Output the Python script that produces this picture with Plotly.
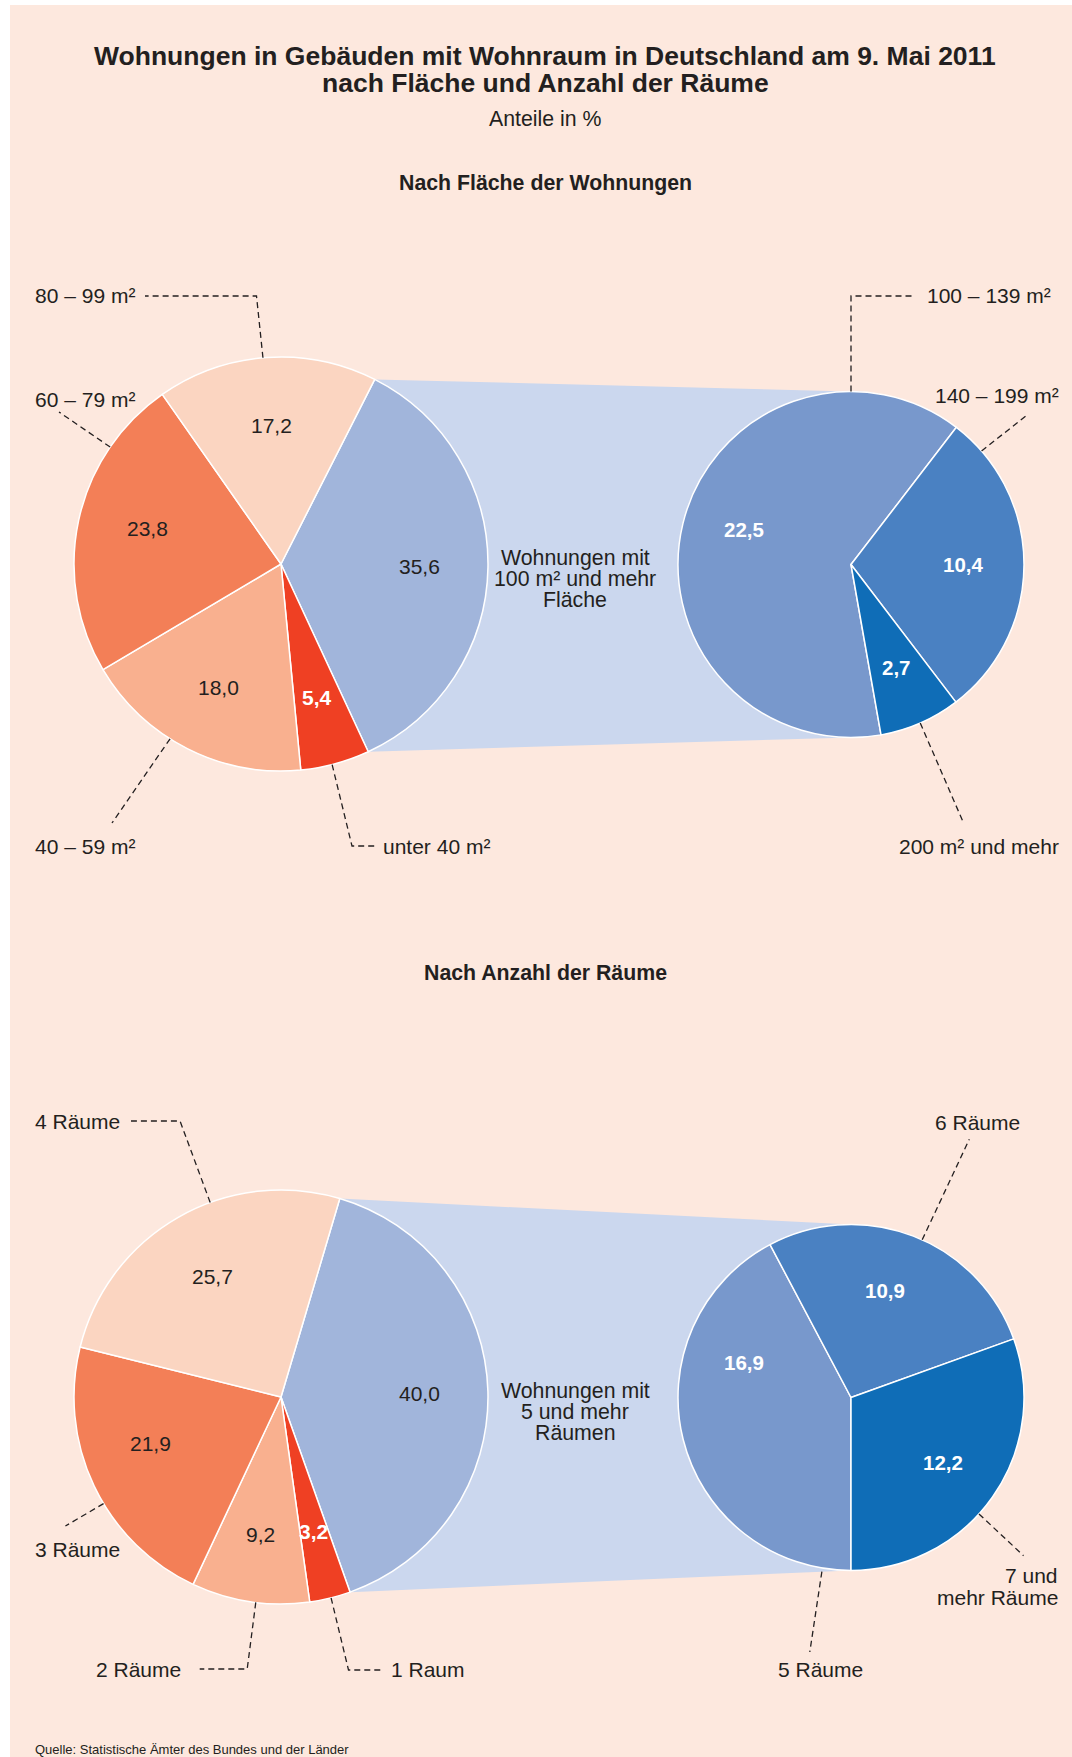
import math
import plotly.graph_objects as go

W, H = 1072, 1757

# ---------------- data ----------------
area_small_labels = ["unter 40 m²", "40 – 59 m²", "60 – 79 m²", "80 – 99 m²"]
area_small_values = [5.4, 18.0, 23.8, 17.2]
area_big_label = "100 m² und mehr"
area_big_value = 35.6
area_detail_labels = ["100 – 139 m²", "140 – 199 m²", "200 m² und mehr"]
area_detail_values = [22.5, 10.4, 2.7]

rooms_small_labels = ["1 Raum", "2 Räume", "3 Räume", "4 Räume"]
rooms_small_values = [3.2, 9.2, 21.9, 25.7]
rooms_big_label = "5 und mehr Räume"
rooms_big_value = 40.0
rooms_detail_labels = ["5 Räume", "6 Räume", "7 und mehr Räume"]
rooms_detail_values = [16.9, 10.9, 12.2]

# ---------------- styles ----------------
FONT = "Liberation Sans, Arial, sans-serif"
DARK = "#231F20"
BG = "#FDE8DE"
BAND = "#CBD7EE"
SMALL_COLORS = ["#EF4023", "#F9B08F", "#F37F57", "#FBD5C1"]
BIG_COLOR = "#A1B5DB"
DETAIL_COLORS = ["#7898CC", "#4A81C2", "#0F6DB7"]


def X(px):
    return px / W


def Y(py):
    return 1 - py / H


def fmt(v):
    return f"{v:.1f}".replace(".", ",")


def make_pie(labels, values, colors, cx, cy, r, rotation):
    return go.Pie(
        labels=labels, values=values, sort=False, direction="clockwise",
        rotation=rotation,
        marker=dict(colors=colors, line=dict(color="white", width=1.5)),
        textinfo="none", hoverinfo="label+value", showlegend=False,
        domain=dict(x=[(cx - r) / W, (cx + r) / W],
                    y=[1 - (cy + r) / H, 1 - (cy - r) / H]),
    )


def mid_angles(values, rotation):
    total = sum(values)
    cum = 0
    out = []
    for v in values:
        cw = rotation + 360 * (cum + v / 2) / total
        out.append(90 - cw)
        cum += v
    return out


def pt(cx, cy, r, ang):
    a = math.radians(ang)
    return cx + r * math.cos(a), cy - r * math.sin(a)


fig = go.Figure()
shapes = []
annotations = []

# background panel
shapes.append(dict(type="rect", xref="paper", yref="paper", x0=X(10), x1=X(W), y0=Y(H), y1=Y(5),
                   fillcolor=BG, line=dict(width=0), layer="below"))


def section(small_labels, small_values, big_label, big_value, detail_labels, detail_values,
            cy, big_center_angle, detail_rotation, center_lines, center_ys,
            leaders, label_angle_override):
    cxL, rL = 281, 207
    cxR, rR = 851, 173
    cyR = cy + 0.5
    vals = [big_value] + small_values
    labs = [big_label] + small_labels
    cols = [BIG_COLOR] + SMALL_COLORS
    total = sum(vals)
    rot = 90 - big_center_angle - 180 * big_value / total
    a_up = 90 - rot
    a_dn = 90 - rot - 360 * big_value / total

    # connecting band
    p1 = pt(cxL, cy, rL, a_up)
    p4 = pt(cxL, cy, rL, a_dn)
    path = (f"M {X(p1[0])},{Y(p1[1])} L {X(cxR)},{Y(cyR - rR)} "
            f"L {X(cxR)},{Y(cyR + rR)} L {X(p4[0])},{Y(p4[1])} Z")
    shapes.append(dict(type="path", xref="paper", yref="paper", path=path,
                       fillcolor=BAND, line=dict(width=0), layer="below"))

    fig.add_trace(make_pie(labs, vals, cols, cxL, cy, rL, rot))
    fig.add_trace(make_pie(detail_labels, detail_values, DETAIL_COLORS, cxR, cyR, rR, detail_rotation))

    # value labels, left pie
    for lab, v, ang in zip(labs, vals, mid_angles(vals, rot)):
        ang = label_angle_override.get(lab, ang)
        x, y = pt(cxL, cy, 0.67 * rL, ang)
        white = lab == small_labels[0]
        annotations.append(dict(x=X(x), y=Y(y), xref="paper", yref="paper", showarrow=False,
                                text=(f"<b>{fmt(v)}</b>" if white else fmt(v)),
                                font=dict(family=FONT, size=21, color="white" if white else DARK),
                                xanchor="center", yanchor="middle"))
    # value labels, right pie
    for lab, v, ang in zip(detail_labels, detail_values, mid_angles(detail_values, detail_rotation)):
        ang = label_angle_override.get(lab, ang)
        x, y = pt(cxR, cyR, 0.65 * rR, ang)
        annotations.append(dict(x=X(x), y=Y(y), xref="paper", yref="paper", showarrow=False,
                                text=f"<b>{fmt(v)}</b>",
                                font=dict(family=FONT, size=20.5, color="white"),
                                xanchor="center", yanchor="middle"))

    # text in the band
    for line, yy in zip(center_lines, center_ys):
        annotations.append(dict(x=X(575), y=Y(yy), xref="paper", yref="paper", showarrow=False,
                                text=line, font=dict(family=FONT, size=21.3, color=DARK),
                                xanchor="center", yanchor="middle"))

    # leader lines and category labels
    for side, att_ang, att_r, pts, texts, tx, anchor in leaders:
        cxx, cyy, rr = (cxL, cy, rL) if side == "L" else (cxR, cyR, rR)
        sx, sy = pt(cxx, cyy, rr * att_r, att_ang)
        d = f"M {X(sx)},{Y(sy)}" + "".join(f" L {X(px)},{Y(py)}" for px, py in pts)
        shapes.append(dict(type="path", xref="paper", yref="paper", path=d,
                           line=dict(color=DARK, width=1.3, dash="6px,4px"), layer="above"))
        for t, ty in texts:
            annotations.append(dict(x=X(tx), y=Y(ty), xref="paper", yref="paper", showarrow=False,
                                    text=t, font=dict(family=FONT, size=21, color=DARK),
                                    xanchor=anchor, yanchor="middle"))


# leader specs: (pie side, attach angle, radius factor, elbow points, [(text, y)], text x, anchor)
area_leaders = [
    ("L", 95, 1.0, [(256.5, 296), (145, 296)], [("80 – 99 m²", 296)], 33, "left"),
    ("L", 145.6, 1.0, [(59, 412)], [("60 – 79 m²", 399)], 33, "left"),
    ("L", 237.6, 1.0, [(112, 823)], [("40 – 59 m²", 846)], 33, "left"),
    ("L", -75.7, 1.0, [(352, 846), (375, 846)], [("unter 40 m²", 846)], 381, "left"),
    ("R", 90, 1.0, [(851, 296), (915, 296)], [("100 – 139 m²", 296)], 925, "left"),
    ("R", 41, 1.0, [(1028.6, 413.8)], [("140 – 199 m²", 395)], 1061, "right"),
    ("R", -66.4, 1.0, [(962.5, 820.6)], [("200 m² und mehr", 846)], 1061, "right"),
]
rooms_leaders = [
    ("L", 110, 1.0, [(180, 1121), (131, 1121)], [("4 Räume", 1121)], 33, "left"),
    ("L", 211, 1.0, [(65.4, 1526)], [("3 Räume", 1549)], 33, "left"),
    ("L", -97, 1.0, [(247.2, 1669), (199.7, 1669)], [("2 Räume", 1669)], 183, "right"),
    ("L", -76, 1.0, [(348.5, 1670), (380.5, 1670)], [("1 Raum", 1669)], 389, "left"),
    ("R", 65.7, 1.0, [(969.3, 1139.3)], [("6 Räume", 1122)], 933, "left"),
    ("R", -42.3, 1.0, [(1023.5, 1555.7)], [("7 und", 1575), ("mehr Räume", 1597)], 1060, "right"),
    ("R", -99.5, 1.02, [(809.8, 1652)], [("5 Räume", 1669)], 776, "left"),
]

section(area_small_labels, area_small_values, area_big_label, area_big_value,
        area_detail_labels, area_detail_values,
        cy=564, big_center_angle=-1, detail_rotation=170,
        center_lines=["Wohnungen mit", "100 m² und mehr", "Fläche"], center_ys=[558, 579, 600],
        leaders=area_leaders,
        label_angle_override={"100 – 139 m²": 162, "60 – 79 m²": 165})

section(rooms_small_labels, rooms_small_values, rooms_big_label, rooms_big_value,
        rooms_detail_labels, rooms_detail_values,
        cy=1397, big_center_angle=1.5, detail_rotation=180,
        center_lines=["Wohnungen mit", "5 und mehr", "Räumen"], center_ys=[1391, 1412, 1433],
        leaders=rooms_leaders,
        label_angle_override={"5 Räume": 162, "3 Räume": 199.5, "6 Räume": 72.5})

# titles
for text, yy, size in [
    ("<b>Wohnungen in Gebäuden mit Wohnraum in Deutschland am 9. Mai 2011</b>", 56, 26.5),
    ("<b>nach Fläche und Anzahl der Räume</b>", 83, 26.5),
    ("Anteile in %", 119, 21.3),
    ("<b>Nach Fläche der Wohnungen</b>", 183, 21.3),
    ("<b>Nach Anzahl der Räume</b>", 973, 21.3),
]:
    annotations.append(dict(x=X(545), y=Y(yy), xref="paper", yref="paper", showarrow=False,
                            text=text, font=dict(family=FONT, size=size, color=DARK),
                            xanchor="center", yanchor="middle"))

annotations.append(dict(x=X(33), y=Y(1749), xref="paper", yref="paper", showarrow=False,
                        text="Quelle: Statistische Ämter des Bundes und der Länder",
                        font=dict(family=FONT, size=13, color=DARK),
                        xanchor="left", yanchor="middle"))

fig.update_layout(
    width=W, height=H, margin=dict(l=0, r=0, t=0, b=0),
    paper_bgcolor="white", plot_bgcolor="white",
    shapes=shapes, annotations=annotations, showlegend=False,
)

fig.write_html("out.html", config={"displayModeBar": False},
               post_script="document.body.style.margin='0px';document.body.style.overflow='hidden';")
